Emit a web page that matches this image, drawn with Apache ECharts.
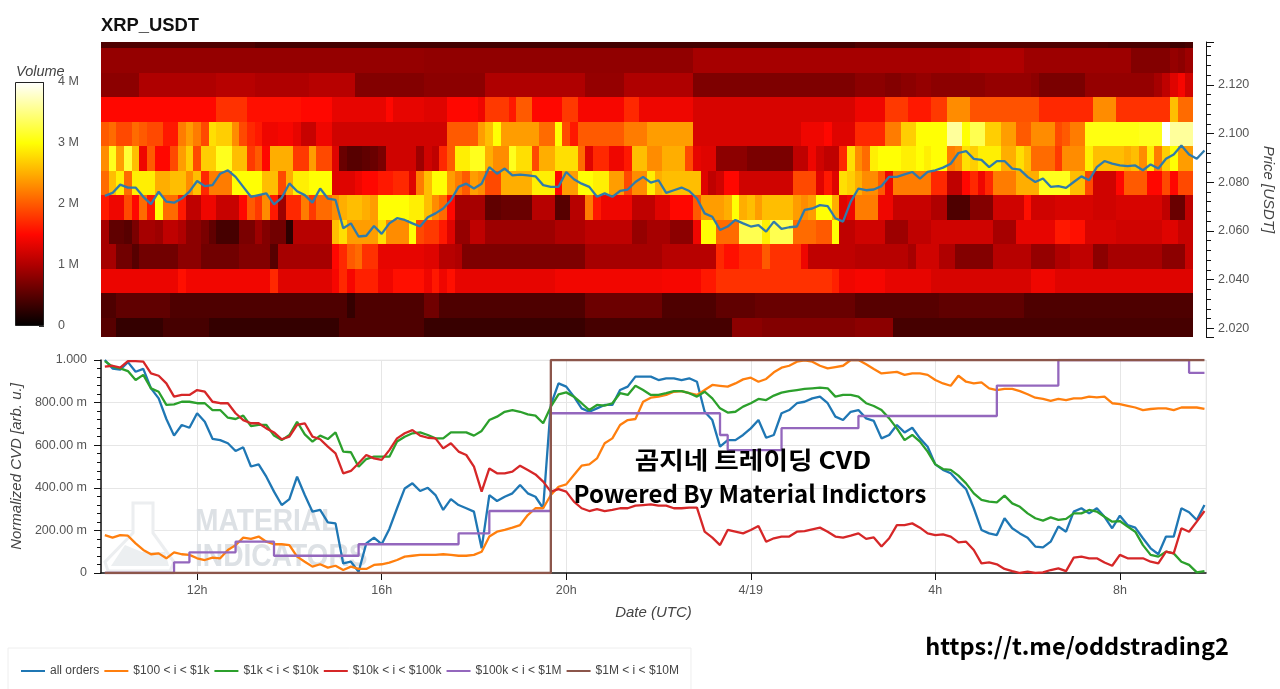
<!DOCTYPE html>
<html style="height: 100%">

<head>
    <meta charset="utf-8">
</head>

<body style="height: 100%; margin: 0; background: #fff">
    <div id="container" style="width: 1280px; height: 689px"></div>

    <script src="https://cdn.jsdelivr.net/npm/echarts@6/dist/echarts.min.js"></script>
    <script type="text/javascript">
        var seriesNames = ['all orders', '$100 < i < $1k', '$1k < i < $10k', '$10k < i < $100k', '$100k < i < $1M', '$1M < i < $10M'];
        var seriesColors = ['#1f77b4', '#ff7f0e', '#2ca02c', '#d62728', '#9467bd', '#8c564b'];
        var hotColors = ['#000000', '#570000', '#af0000', '#ff0700', '#ff5a00', '#ffae00', '#ffff04', '#ffff82', '#ffffff'];

        // volume per price bin, top row first, one value per 10 min column (millions)
        var rowCenters = [2.14004, 2.12997, 2.1199, 2.10983, 2.09976, 2.08969, 2.07962, 2.06955, 2.05948, 2.04941, 2.03934, 2.02927, 2.0192];
        var row2139 = [
            .45,.45,.45,.45,.45,.45,.45,.45,.45,.45,
            .45,.45,.45,.45,.45,.45,.45,.45,.45,.45,
            .38,.38,.38,.38,.38,.38,.38,.38,.38,.38,
            .38,.38,.38,.38,.38,.38,.38,.38,.38,.38,
            .38,.38,.38,.38,.38,.38,.38,.38,.38,.38,
            .38,.38,.38,.38,.38,.38,.38,.38,.38,.38,
            .38,.38,.38,.38,.38,.38,.38,.38,.38,.38,
            .38,.38,.38,.38,.38,.38,.38,.38,.38,.38,
            .38,.38,.38,.38,.38,.38,.38,.38,.38,.38,
            .38,.38,.38,.38,.38,.38,.38,.38,.45,.45,
            .45,.45,.45,.45,.45,.45,.45,.45,.45,.45,
            .45,.45,.45,.45,.45,.45,.45,.45,.45,.45,
            .45,.45,.45,.45,.45,.45,.45,.45,.45,.45,
            .45,.42,.42,.42,.42,.42,.42,.42,.42,.35,
            .35,.4];
        var row2129 = [
            .85,.85,.85,.85,.85,.85,.85,.85,.85,.85,
            .85,.85,.85,.85,.85,.85,.85,.85,.85,.85,
            .85,.85,.85,.85,.85,.85,.85,.85,.85,.85,
            .85,.85,.85,.85,.85,.85,.85,.85,.85,.85,
            .85,.85,.83,.83,.83,.83,.83,.83,.83,.83,
            .83,.83,.83,.83,.83,.83,.83,.83,.83,.83,
            .83,.83,.83,.83,.83,.83,.83,.83,.83,.83,
            .83,.83,.83,.83,.83,.83,.83,.95,.95,.95,
            .95,.95,.95,.95,.95,.95,.95,.95,.95,.95,
            .95,.95,.95,.95,.95,.95,.95,.95,.95,.95,
            .95,.95,.95,.95,.95,.95,.95,.95,.95,.95,
            .95,.95,.95,1,1,1,1,1,1,1,
            .9,.9,.9,.9,.9,.9,.9,.9,.9,.9,
            .9,.9,.9,.9,.75,.75,.75,.75,.75,.85,
            .8,.9];
        var row2119 = [
            .8,.8,.8,.8,.8,1,1,1,1,1,
            1,1,1,1,1,1.05,1.05,1.05,1.05,1.05,
            1,1,1,1,1,1,1,1.05,1.05,1.05,
            1.05,1.05,1.05,.75,.75,.75,.75,.75,.75,.75,
            .75,.75,.8,.8,.8,.8,.8,.8,.8,.8,
            1,1,1,1,1,1,1,1,1,1,
            1,1,1,.85,.85,.85,.85,.85,1,1,
            1,1,1,1,1,1,1,.72,.72,.72,
            .72,.72,.72,.72,.72,.72,.72,.72,.72,.72,
            .72,.72,.72,.72,.72,.72,.72,.72,.8,.8,
            .8,.8,.75,.75,.8,.8,.85,.85,.8,.8,
            .8,.8,.8,.8,.8,.85,.85,.85,.85,.85,
            .85,.8,.7,.7,.7,.7,.7,.7,.85,.85,
            .85,.85,.85,.85,.85,.85,.85,.95,1.1,1.3,
            1.45,1.2];
        var row2109 = [
            1.5,1.5,1.5,1.5,1.5,1.5,1.5,1.5,1.5,1.5,
            1.5,1.5,1.5,1.5,1.5,1.75,1.75,1.75,1.75,1.55,
            1.55,1.55,1.55,1.55,1.55,1.55,1.5,1.5,1.5,1.5,
            1.35,1.35,1.35,1.35,1.35,1.35,1.35,1.5,1.35,1.35,
            1.35,1.35,1.3,1.3,1.3,1.5,1.5,1.5,1.5,1.4,
            1.8,1.8,1.8,1.6,2,2,1.5,1.5,1.5,1.5,
            1.8,1.8,1.45,1.45,1.45,1.45,1.45,1.45,1.7,1.7,
            1.4,1.4,1.4,1.4,1.4,1.4,1.4,1.25,1.25,1.25,
            1.25,1.25,1.25,1.25,1.25,1.25,1.25,1.25,1.25,1.25,
            1.25,1.25,1.25,1.25,1.25,1.25,1.25,1.25,1.4,1.4,
            1.4,1.4,1.8,1.8,1.8,1.6,1.6,1.6,1.8,1.8,
            2.3,2.3,2.3,1.95,1.95,1.95,1.95,1.95,1.95,1.95,
            1.95,1.95,1.7,1.7,1.7,1.7,1.7,1.7,1.7,2.3,
            2.3,2.3,1.75,1.75,1.75,1.75,1.75,1.75,1.75,2.6,
            2.1,2.1];
        var row2099 = [
            2,2.1,1.9,1.9,2.1,2,1.9,1.9,1.6,1.6,
            2.2,2.4,2.2,1.9,2.8,2.7,2.7,2.3,1.9,1.7,
            1.6,1.4,1.4,1.45,1.45,1.35,1.15,1.15,1.4,1.4,
            1.2,1.2,1.2,1.2,1.2,1.2,1.2,1.2,1.2,1.2,
            1.2,1.2,1.2,1.2,1.2,2,2,2,2,2.4,
            2.6,3,2.4,2.4,2.4,2.4,2.4,2.1,2.1,3,
            1.9,1.6,2,2,2,2,2,2,2.2,2.2,
            2.2,2.4,2.4,2.4,2.4,2.4,2.4,1.25,1.25,1.25,
            1.25,1.25,1.25,1.25,1.25,1.25,1.25,1.25,1.25,1.25,
            1.25,1.4,1.4,1.4,1.5,1.3,1.3,1.3,1.7,1.7,
            1.7,1.7,2.2,2.2,2.7,2.7,3,3,3,3,
            3.6,3.6,3,3.3,3.3,2.7,2.7,2.4,2.4,2,
            2,2.3,2.3,2.3,1.9,2,2.2,2.2,3.05,3.05,
            3.05,3.05,3.05,3.05,3.05,3.1,3.1,3.1,4,3.6,
            3.6,3.6];
        var row2089 = [
            2.3,3.1,2.4,3.2,2.6,1.4,2,1.5,1.5,1.9,
            2.4,2.7,1.9,2.7,2.7,3.1,3.1,2.6,2.6,1.8,
            2,1.5,2.5,2.5,2.5,1.8,1.8,2.4,1.9,1.9,
            1.3,.6,.5,.5,.55,.6,.7,1.2,1.2,1.2,
            1.2,.9,1.2,1.1,1.7,2,2.9,2.9,3.1,3.1,
            2.5,2.3,2.3,3.1,2.8,2.8,1.9,2.5,2.5,2.8,
            2.8,2.8,2.1,1.3,1.7,1.7,1.4,1.4,1.6,2.6,
            2.6,2.3,2.3,2.5,2.5,2.5,1.9,1.35,1.3,1.3,
            .8,.8,.8,.8,.7,.7,.7,.7,.7,.7,
            1.1,1.1,1.4,1.2,1.1,1.1,1.7,2.8,2.3,2.1,
            2.9,3,3,3,2.9,2.9,3,2.9,3,3,
            2.2,2.3,2.8,2.7,2.9,2.9,2.9,2.5,2.5,2.8,
            2.6,2.1,2.1,2.1,1.8,2.3,2.3,2.3,2.9,2.6,
            2.6,2.6,2.6,2.5,2.6,2.3,2.9,2.2,2.7,3,
            2.4,2.4];
        var row2079 = [
            2.1,2.6,2.9,2.1,2.9,2.9,2.9,2.5,2.5,2.6,
            2.6,2.3,2.6,1.7,2.2,2.2,2.2,3,3,3,
            3,2.6,2.6,1.9,2.5,2.9,2.9,3,3,3,
            1.3,1.3,1.3,1.4,1.5,1.5,1.6,1.6,1.7,1.7,
            1.3,2.2,2.6,3,3,2.4,2.2,2,2.4,2.3,
            1.9,1.9,2.5,2.5,2.5,2.5,2.9,2.9,2.9,1.5,
            2.4,2.4,3,3,2.9,2.9,2.4,2.4,1.9,2.3,
            2.3,2.9,2.5,2.6,2.6,2.6,2.6,2.6,1.3,1.1,
            1.2,1.5,1.5,1.2,1.2,1.2,1.2,1.2,1.2,1.2,
            1.9,1.9,1.9,1.3,1.6,1.3,2.8,2.7,2.5,2.3,
            2.3,2,1.4,2.2,2.2,2.2,2.2,2.2,1.7,1.7,
            1.1,1.1,1.5,1.7,1.4,1.7,2.2,2.2,2.2,2.5,
            2.5,2.5,3.1,3.1,3.1,3.1,2.6,2.6,1.9,1.2,
            1.2,1.2,1.5,2,2,2,1.5,1.5,1.9,1.5,
            1.9,1.9];
        var row2069 = [
            1.6,1.4,1.4,1.9,1.5,2.1,1.6,3,2.1,2.1,
            1.6,1.1,1.1,1.4,1.4,1.15,1.15,1.15,1.5,2,
            1.8,2.3,1.6,.9,1.7,1.7,2.2,1.8,2.1,2.1,
            2.3,2.5,2.6,2.6,2.5,2.4,3,3,3,3,
            2.9,2.9,2.6,2.3,2.1,1.5,.95,.95,.95,.95,
            .55,.55,.6,.6,.6,.6,1.05,1.05,1.05,.5,
            .5,1.05,1.05,2.2,1.6,1.4,1.4,1.4,1.4,1.1,
            1.1,1.1,1.3,1.3,1.5,1.5,1.5,2,2.4,2.4,
            2.4,2.5,3,2.5,2.6,2.4,2.6,2.6,2.6,2.6,
            2.4,2.3,2.4,3,3,2.5,1.3,1.4,2.2,2.2,
            2.2,1.4,1.4,1.15,1.15,1.15,1.15,1.15,1,1,
            .45,.45,.45,.75,.75,.75,1.2,1.2,1.2,1.2,
            1.55,1.2,1.2,1.2,1.25,1.25,1.25,1.25,1.25,1.2,
            1.2,1.2,1.25,1.25,1.25,1.25,1.25,1.25,1.1,.6,
            .6,1.1];
        var row2059 = [
            .95,.55,.55,.5,.7,.95,.95,.9,1.1,1.1,
            1,.8,.8,.7,.55,.4,.4,.4,.7,.7,
            .9,.75,.65,.65,.25,1.05,1.05,1.05,1.05,1.05,
            2.6,2.8,2.4,2.4,2.4,2.4,2.8,2.3,2.3,2.3,
            3,1.9,1.8,1.8,1.6,1.3,.85,.85,1.1,1.1,
            .9,.9,.9,.9,.9,.9,.9,.9,.9,1,
            1,1,1,1.1,1.1,1.1,1.1,1.1,1.1,.85,
            .85,.95,.95,.95,.8,.8,.8,1.4,3,3,
            2.1,2.1,2.1,3.3,3.3,3.3,2.9,3.3,3.3,3.3,
            2.1,2.1,2.1,2,2,3,1.1,1.1,1.2,1.2,
            1.2,1.2,.9,.9,.9,1.1,1.1,1.1,1.2,1.2,
            1.2,1.2,1.2,1.2,1.2,1.2,.95,.95,.95,1.35,
            1.35,1.35,1.35,1.35,1.6,1.6,1.55,1.55,1.25,1.25,
            1.25,1.25,1.2,1.2,1.2,1.2,1.2,1.2,1.3,1.3,
            1.15,1.15];
        var row2049 = [
            .95,.95,.65,.65,.5,.65,.65,.65,.65,.65,
            .8,.8,.8,.65,.65,.65,.65,.65,.75,.75,
            .75,.75,.5,.95,.95,.95,.95,.95,.95,.95,
            1.5,1.7,2,2.1,1.75,1.75,1.35,1.35,1.35,1.35,
            1.35,1.35,1.3,1.3,1.05,1.05,1,.72,.72,.72,
            .72,.72,.72,.72,.72,.72,.72,.72,.72,.72,
            .72,.72,.72,.95,.95,.95,.95,.95,.95,.95,
            .95,.95,.95,1.05,1.05,1.05,1.05,1.05,1.05,1.05,
            1.7,1.55,1.55,1.7,1.7,1.7,2,1.75,1.75,1.75,
            1.75,1.4,1.1,1.1,1.1,1.1,1.1,1.1,1.05,1.05,
            1.05,1.05,1.05,1.05,1.05,.95,1.2,1.2,1.2,1,
            1,.75,.75,.75,.75,.75,1.05,1.05,1.05,1.05,
            1.05,.85,.85,.85,1,1,1.1,1.1,1.1,.8,
            .8,.95,.95,.95,.95,.95,.95,.95,.8,.8,
            .8,1.15];
        var row2039 = [
            1.38,1.38,1.38,1.38,1.38,1.38,1.38,1.38,1.38,1.38,
            1.55,1.42,1.42,1.42,1.42,1.42,1.42,1.42,1.42,1.42,
            1.42,1.42,1.7,1.3,1.3,1.3,1.3,1.3,1.3,1.3,
            1.45,1.7,1.45,1.65,1.65,1.65,1.4,1.4,1.55,1.55,
            1.55,1.55,1.4,1.6,1.4,1.55,1.35,1.35,1.35,1.35,
            1.35,1.35,1.35,1.35,1.35,1.35,1.35,1.35,1.35,1.42,
            1.42,1.42,1.42,1.42,1.42,1.42,1.42,1.42,1.42,1.42,
            1.42,1.42,1.42,1.45,1.45,1.45,1.45,1.45,1.6,1.6,
            1.75,1.75,1.75,1.75,1.75,1.75,1.75,1.75,1.75,1.75,
            1.75,1.75,1.75,1.75,1.75,1.65,1.4,1.4,1.45,1.45,
            1.45,1.45,1.35,1.35,1.35,1.35,1.35,1.35,1.25,1.25,
            1.25,1.25,1.25,1.25,1.25,1.25,1.25,1.25,1.25,1.25,
            1.25,1.4,1.4,1.4,1.3,1.3,1.3,1.3,1.3,1.3,
            1.3,1.3,1.3,1.3,1.3,1.3,1.3,1.3,1.3,1.3,
            1.3,1.3];
        var row2029 = [
            .45,.45,.55,.55,.55,.55,.55,.55,.55,.45,
            .45,.45,.45,.45,.45,.45,.45,.45,.45,.45,
            .45,.45,.45,.45,.45,.45,.45,.45,.45,.45,
            .45,.45,.3,.45,.45,.45,.45,.45,.45,.45,
            .45,.45,.65,.65,.45,.45,.45,.45,.45,.45,
            .45,.45,.45,.45,.45,.45,.45,.45,.45,.45,
            .45,.45,.45,.62,.62,.62,.62,.62,.62,.62,
            .62,.62,.62,.45,.45,.45,.45,.45,.45,.45,
            .55,.55,.55,.55,.55,.6,.6,.6,.6,.6,
            .6,.6,.6,.6,.6,.6,.6,.6,.5,.5,
            .5,.5,.5,.5,.5,.5,.5,.5,.5,.55,
            .55,.55,.55,.55,.55,.55,.55,.55,.55,.55,
            .45,.45,.45,.45,.45,.45,.45,.45,.45,.45,
            .45,.45,.45,.45,.45,.45,.45,.45,.45,.45,
            .45,.45];
        var row2019 = [
            .5,.5,.3,.3,.3,.3,.3,.3,.4,.4,
            .4,.4,.4,.4,.3,.3,.3,.3,.3,.3,
            .3,.3,.3,.3,.3,.3,.3,.3,.3,.3,
            .3,.45,.45,.45,.45,.45,.45,.45,.45,.45,
            .45,.45,.32,.32,.32,.32,.32,.32,.32,.32,
            .32,.32,.32,.32,.32,.32,.32,.32,.32,.32,
            .32,.32,.32,.4,.4,.4,.4,.4,.4,.4,
            .4,.4,.4,.4,.4,.4,.4,.4,.4,.4,
            .4,.4,.8,.8,.8,.8,.75,.75,.75,.75,
            .75,.75,.75,.75,.75,.75,.75,.75,.8,.8,
            .8,.8,.8,.4,.4,.4,.4,.4,.4,.4,
            .4,.4,.4,.4,.4,.4,.4,.4,.4,.4,
            .4,.4,.4,.4,.4,.4,.4,.4,.4,.4,
            .4,.4,.4,.4,.4,.4,.4,.4,.4,.4,
            .4,.4];
        var volumeRows = [row2139, row2129, row2119, row2109, row2099, row2089, row2079, row2069, row2059, row2049, row2039, row2029, row2019];

        // price and CVD lines, one value every 10 min from 4/18 10:00
        var price = [
            2.0744,2.0756,2.0790,2.0778,2.0778,2.0740,2.0710,2.0761,2.0720,2.0716,
            2.0733,2.0761,2.0805,2.0784,2.0788,2.0835,2.0849,2.0822,2.0781,2.0740,
            2.0747,2.0754,2.0709,2.0736,2.0795,2.0763,2.0747,2.0716,2.0774,2.0733,
            2.0727,2.0611,2.0631,2.0577,2.0580,2.0620,2.0588,2.0631,2.0652,2.0645,
            2.0631,2.0618,2.0656,2.0672,2.0692,2.0726,2.0781,2.0794,2.0774,2.0794,
            2.0862,2.0835,2.0856,2.0828,2.0831,2.0828,2.0824,2.0788,2.0781,2.0781,
            2.0842,2.0812,2.0794,2.0781,2.0740,2.0754,2.0740,2.0764,2.0770,2.0801,
            2.0822,2.0798,2.0808,2.0756,2.0767,2.0778,2.0764,2.0733,2.0672,2.0658,
            2.0604,2.0618,2.0645,2.0631,2.0618,2.0624,2.0597,2.0638,2.0608,2.0615,
            2.0618,2.0686,2.0692,2.0706,2.0702,2.0652,2.0638,2.0720,2.0774,2.0767,
            2.0770,2.0784,2.0822,2.0822,2.0832,2.0842,2.0815,2.0842,2.0849,2.0860,
            2.0876,2.0920,2.0928,2.0896,2.0892,2.0862,2.0887,2.0887,2.0856,2.0852,
            2.0822,2.0801,2.0815,2.0781,2.0784,2.0777,2.0801,2.0824,2.0808,2.0862,
            2.0887,2.0876,2.0869,2.0866,2.0869,2.0849,2.0873,2.0856,2.0896,2.0914,
            2.0951,2.0914,2.0896,2.0930];
        var allOrders = [
            1,.96,.955,.99,.945,.958,.867,.82,.723,.645,
            .695,.682,.75,.71,.63,.624,.609,.573,.59,.5,
            .51,.452,.382,.319,.347,.452,.366,.288,.296,.238,
            .233,.045,.053,.006,.139,.166,.135,.207,.304,.397,
            .421,.385,.4,.366,.296,.347,.319,.304,.288,.116,
            .366,.338,.358,.374,.413,.374,.358,.304,.789,.89,
            .875,.828,.773,.757,.773,.789,.789,.859,.875,.922,
            .922,.922,.906,.914,.914,.906,.914,.898,.757,.718,
            .593,.624,.624,.648,.679,.718,.635,.648,.75,.765,
            .797,.804,.82,.828,.797,.734,.718,.757,.765,.726,
            .714,.632,.648,.695,.66,.682,.632,.593,.51,.484,
            .468,.429,.394,.304,.202,.186,.178,.257,.21,.186,
            .166,.124,.12,.147,.218,.194,.288,.304,.28,.304,
            .264,.21,.269,.225,.213,.163,.116,.088,.171,.171,
            .304,.285,.249,.319];
        var orders100 = [
            .178,.166,.178,.175,.139,.108,.088,.092,.069,.097,
            .088,.085,.069,.061,.072,.069,.108,.131,.166,.16,
            .171,.147,.135,.135,.131,.077,.053,.03,.041,.025,
            .034,.014,.03,.019,.019,.038,.041,.049,.061,.077,
            .081,.085,.085,.085,.088,.085,.081,.081,.085,.1,
            .171,.194,.202,.213,.225,.272,.304,.304,.366,.405,
            .416,.46,.504,.51,.538,.609,.632,.695,.718,.723,
            .804,.823,.828,.836,.851,.854,.844,.836,.859,.883,
            .879,.875,.89,.909,.917,.898,.911,.942,.964,.973,
            .992,.998,.992,.973,.961,.967,.973,1,1,.98,
            .958,.937,.941,.944,.93,.937,.937,.93,.906,.89,
            .879,.926,.898,.89,.895,.867,.859,.864,.864,.854,
            .839,.823,.817,.808,.817,.812,.82,.82,.828,.825,
            .828,.797,.793,.785,.777,.765,.77,.773,.773,.765,
            .777,.777,.777,.771];
        var orders1k = [
            .995,.969,.961,.948,.906,.93,.867,.851,.789,.792,
            .804,.804,.797,.797,.765,.765,.729,.723,.739,.69,
            .695,.695,.645,.624,.648,.71,.651,.617,.645,.629,
            .66,.57,.567,.499,.535,.546,.546,.546,.617,.64,
            .656,.66,.648,.632,.632,.66,.66,.66,.645,.667,
            .718,.734,.757,.765,.757,.745,.739,.703,.781,.839,
            .848,.828,.797,.765,.789,.786,.797,.844,.836,.879,
            .859,.836,.836,.844,.854,.854,.844,.828,.851,.82,
            .773,.753,.757,.781,.797,.817,.812,.833,.847,.854,
            .859,.864,.867,.87,.867,.828,.836,.836,.828,.797,
            .784,.765,.726,.679,.624,.648,.617,.57,.51,.488,
            .484,.457,.421,.374,.343,.335,.332,.363,.327,.311,
            .28,.257,.246,.261,.249,.254,.28,.28,.296,.288,
            .264,.241,.244,.218,.194,.131,.085,.077,.1,.092,
            .053,.038,.003,.009];
        var orders10k = [
            .969,.973,.964,.995,.995,.992,.937,.926,.89,.828,
            .836,.836,.859,.851,.804,.797,.797,.75,.718,.703,
            .703,.679,.66,.628,.64,.695,.703,.64,.628,.593,
            .562,.468,.479,.515,.554,.538,.531,.577,.632,.656,
            .671,.645,.635,.632,.585,.609,.57,.554,.499,.382,
            .491,.468,.468,.476,.504,.484,.463,.429,.382,.394,
            .382,.335,.304,.291,.3,.291,.296,.304,.304,.316,
            .319,.322,.316,.316,.304,.304,.307,.307,.194,.166,
            .131,.202,.194,.186,.202,.221,.147,.163,.171,.171,
            .194,.197,.205,.213,.194,.171,.166,.175,.186,.16,
            .167,.124,.163,.225,.225,.233,.213,.186,.178,.181,
            .171,.144,.147,.108,.045,.05,.041,.019,.009,0,
            .006,0,.003,.014,.022,.009,.072,.077,.069,.069,
            .049,.034,.085,.069,.069,.069,.053,.045,.1,.092,
            .21,.194,.241,.291];
        var orders100k = [
            0,0,0,0,0,0,0,0,0,.05,
            .05,.097,.097,.097,.097,.097,.097,.147,.147,.147,
            .147,.147,.081,.081,.081,.081,.081,.081,.081,.081,
            .081,.081,.081,.135,.135,.135,.135,.135,.135,.135,
            .135,.135,.135,.135,.135,.135,.186,.186,.186,.186,
            .291,.291,.291,.291,.291,.291,.291,.291,.75,.75,
            .75,.75,.75,.75,.75,.75,.75,.75,.75,.75,
            .75,.75,.75,.75,.75,.75,.75,.75,.75,.75,
            .648,.577,.577,.577,.577,.577,.577,.577,.68,.68,
            .68,.68,.68,.68,.68,.68,.68,.68,.737,.737,
            .737,.737,.737,.737,.737,.737,.737,.737,.737,.737,
            .737,.737,.737,.737,.737,.737,.88,.88,.88,.88,
            .88,.88,.88,.88,1,1,1,1,1,1,
            1,1,1,1,1,1,1,1,1,1,
            1,.94,.94,.94];
        var orders1m = [
            0,0,0,0,0,0,0,0,0,0,
            0,0,0,0,0,0,0,0,0,0,
            0,0,0,0,0,0,0,0,0,0,
            0,0,0,0,0,0,0,0,0,0,
            0,0,0,0,0,0,0,0,0,0,
            0,0,0,0,0,0,0,0,1,1,
            1,1,1,1,1,1,1,1,1,1,
            1,1,1,1,1,1,1,1,1,1,
            1,1,1,1,1,1,1,1,1,1,
            1,1,1,1,1,1,1,1,1,1,
            1,1,1,1,1,1,1,1,1,1,
            1,1,1,1,1,1,1,1,1,1,
            1,1,1,1,1,1,1,1,1,1,
            1,1,1,1,1,1,1,1,1,1,
            1,1,1,1];
        var cvdLines = [allOrders, orders100, orders1k, orders10k, orders100k, orders1m];

        var tenMinutes = 600000;
        var binHeight = 0.01007;
        var columnStart = Date.UTC(2025, 3, 18, 9, 55);
        var lineStart = Date.UTC(2025, 3, 18, 10, 0);
        var timeMin = columnStart;
        var timeMax = Date.UTC(2025, 3, 19, 9, 52);

        var cells = [];
        volumeRows.forEach(function (row, r) {
            row.forEach(function (v, c) {
                cells.push([columnStart + c * tenMinutes, rowCenters[r], v]);
            });
        });

        function withTime(values) {
            return values.map(function (v, i) {
                return [lineStart + i * tenMinutes, v];
            });
        }

        function renderCell(params, api) {
            var a = api.coord([api.value(0), api.value(1) + binHeight / 2]);
            var b = api.coord([api.value(0) + tenMinutes, api.value(1) - binHeight / 2]);
            var x0 = Math.round(a[0]), y0 = Math.round(a[1]);
            return {
                type: 'rect',
                shape: { x: x0, y: y0, width: Math.round(b[0]) - x0, height: Math.round(b[1]) - y0 },
                style: { fill: api.visual('color') }
            };
        }

        var axisFont = { fontFamily: 'Liberation Sans', fontSize: 12.5, color: '#555' };
        var nameFont = { fontFamily: 'Liberation Sans', fontSize: 15, fontStyle: 'italic', color: '#444' };

        var cvdSeries = cvdLines.map(function (values, i) {
            return {
                name: seriesNames[i],
                type: 'line',
                xAxisIndex: 1,
                yAxisIndex: 1,
                symbol: 'none',
                step: i >= 4 ? 'end' : false,
                lineStyle: { width: 2.3, color: seriesColors[i] },
                itemStyle: { color: seriesColors[i] },
                data: withTime(values)
            };
        });

        var myChart = echarts.init(document.getElementById('container'));
        var option = {
            useUTC: true,
            animation: false,
            backgroundColor: '#fff',
            grid: [
                { left: 101, top: 42, width: 1105, height: 295, outerBoundsMode: 'none' },
                { left: 101, top: 360, width: 1105, height: 213, outerBoundsMode: 'none', show: true, borderColor: '#eee', borderWidth: 1 },
                { left: 15, top: 82, width: 29, height: 244, outerBoundsMode: 'none' }
            ],
            xAxis: [
                { type: 'time', gridIndex: 0, min: timeMin, max: timeMax, show: false },
                {
                    type: 'time', gridIndex: 1, min: timeMin, max: timeMax,
                    minInterval: 4 * 3600000, maxInterval: 4 * 3600000,
                    name: 'Date (UTC)', nameLocation: 'middle', nameGap: 32, nameTextStyle: nameFont,
                    axisLine: { lineStyle: { color: '#111', width: 1.5 } },
                    axisTick: { length: 7, lineStyle: { color: '#111' } },
                    axisLabel: Object.assign({}, axisFont, {
                        margin: 11,
                        showMinLabel: false,
                        showMaxLabel: false,
                        formatter: function (value) {
                            var h = new Date(value).getUTCHours();
                            return h === 0 ? '4/19' : h + 'h';
                        }
                    }),
                    splitLine: { show: true, lineStyle: { color: '#e6e6e6' } }
                },
                { type: 'category', gridIndex: 2, data: ['Volume'], show: false }
            ],
            yAxis: [
                {
                    type: 'value', gridIndex: 0, position: 'right', min: 2.01642, max: 2.13759, splitNumber: 6,
                    name: 'Price [USDT]', nameLocation: 'middle', nameRotate: -90, nameGap: 54, nameTextStyle: nameFont,
                    axisLine: { show: true, lineStyle: { color: '#111' } },
                    axisTick: { show: true, length: 8, lineStyle: { color: '#111' } },
                    minorTick: { show: true, splitNumber: 5, length: 5, lineStyle: { color: '#111' } },
                    axisLabel: Object.assign({}, axisFont, {
                        margin: 12,
                        showMinLabel: false,
                        showMaxLabel: false,
                        formatter: function (v) { return v.toFixed(3); }
                    }),
                    splitLine: { show: false }
                },
                {
                    type: 'value', gridIndex: 1, min: 0, max: 1, interval: 0.2,
                    name: 'Normalized CVD [arb. u.]', nameLocation: 'middle', nameGap: 74, nameTextStyle: nameFont,
                    axisLine: { show: true, lineStyle: { color: '#111', width: 1.5 } },
                    axisTick: { show: true, length: 7, lineStyle: { color: '#111' } },
                    minorTick: { show: true, splitNumber: 5, length: 4, lineStyle: { color: '#111' } },
                    axisLabel: Object.assign({}, axisFont, {
                        margin: 14,
                        formatter: function (v) {
                            if (v === 0) return '0';
                            if (v === 1) return '1.000';
                            return (v * 1000).toFixed(2) + ' m';
                        }
                    }),
                    splitLine: { show: true, lineStyle: { color: '#e6e6e6' } }
                },
                {
                    type: 'value', gridIndex: 2, position: 'right', min: 0, max: 4, interval: 1,
                    axisLine: { show: false },
                    axisTick: { show: true, inside: true, length: 5, lineStyle: { color: '#333' } },
                    axisLabel: Object.assign({}, axisFont, {
                        margin: 14,
                        formatter: function (v) { return v === 0 ? '0' : v + ' M'; }
                    }),
                    splitLine: { show: false }
                }
            ],
            visualMap: {
                show: false,
                type: 'continuous',
                seriesIndex: 0,
                dimension: 2,
                min: 0,
                max: 4,
                inRange: { color: hotColors }
            },
            legend: {
                left: 8,
                top: 648,
                data: seriesNames,
                itemWidth: 24,
                itemHeight: 2,
                itemGap: 4,
                padding: [17, 12, 13, 12],
                borderColor: '#eee',
                borderWidth: 1,
                textStyle: { fontFamily: 'Liberation Sans', fontSize: 12, color: '#444' }
            },
            graphic: [
                { type: 'text', left: 101, top: 17, z: 10, style: { text: 'XRP_USDT', fontFamily: 'Liberation Sans', fontWeight: 'bold', fontSize: 18.4, fill: '#111' } },
                { type: 'text', left: 16, top: 64, z: 10, style: { text: 'Volume', fontFamily: 'Liberation Sans', fontStyle: 'italic', fontSize: 14.5, fill: '#444' } },
                { type: 'polygon', z: 1, shape: { points: [[133, 503], [153, 503], [153, 533], [174, 562], [170, 571], [108, 571], [105, 562], [133, 533]] }, style: { fill: '#fff', stroke: '#eceef0', lineWidth: 3 } },
                { type: 'polygon', z: 1, shape: { points: [[125, 545], [142, 552], [165, 552], [169, 566], [111, 566]] }, style: { fill: '#eceff1' } },
                { type: 'text', x: 195, y: 506, scaleX: 0.88, z: 1, style: { text: 'MATERIAL', fontFamily: 'Liberation Sans', fontWeight: 'bold', fontSize: 32, fill: '#dde1e5' } },
                { type: 'text', x: 195, y: 541, scaleX: 0.88, z: 1, style: { text: 'INDICATORS', fontFamily: 'Liberation Sans', fontWeight: 'bold', fontSize: 32, fill: '#dde1e5' } },
                { type: 'text', x: 753, y: 460, scaleX: 1.11, z: 100, style: { text: '곰지네 트레이딩 CVD', align: 'center', verticalAlign: 'middle', fontFamily: 'Noto Sans CJK KR', fontWeight: 'bold', fontSize: 24, fill: '#000' } },
                { type: 'text', x: 750, y: 494, z: 100, style: { text: 'Powered By Material Indictors', align: 'center', verticalAlign: 'middle', fontFamily: 'Noto Sans CJK KR', fontWeight: 'bold', fontSize: 24, fill: '#000' } },
                { type: 'text', x: 1077, y: 646, z: 100, style: { text: 'https://t.me/oddstrading2', align: 'center', verticalAlign: 'middle', fontFamily: 'Noto Sans CJK KR', fontWeight: 'bold', fontSize: 23.5, fill: '#000' } }
            ],
            series: [
                {
                    type: 'custom',
                    xAxisIndex: 0,
                    yAxisIndex: 0,
                    clip: true,
                    renderItem: renderCell,
                    encode: { x: 0, y: 1 },
                    data: cells
                },
                {
                    name: 'Price',
                    type: 'line',
                    xAxisIndex: 0,
                    yAxisIndex: 0,
                    symbol: 'none',
                    lineStyle: { width: 2.3, color: '#2f7bab' },
                    data: withTime(price)
                }
            ].concat(cvdSeries).concat([
                {
                    type: 'bar',
                    xAxisIndex: 2,
                    yAxisIndex: 2,
                    barWidth: '100%',
                    silent: true,
                    itemStyle: {
                        borderColor: '#222',
                        borderWidth: 1,
                        color: new echarts.graphic.LinearGradient(0, 1, 0, 0, hotColors.map(function (c, i) {
                            return { offset: i / (hotColors.length - 1), color: c };
                        }))
                    },
                    data: [4]
                }
            ])
        };

        myChart.setOption(option);
    </script>
</body>

</html>
